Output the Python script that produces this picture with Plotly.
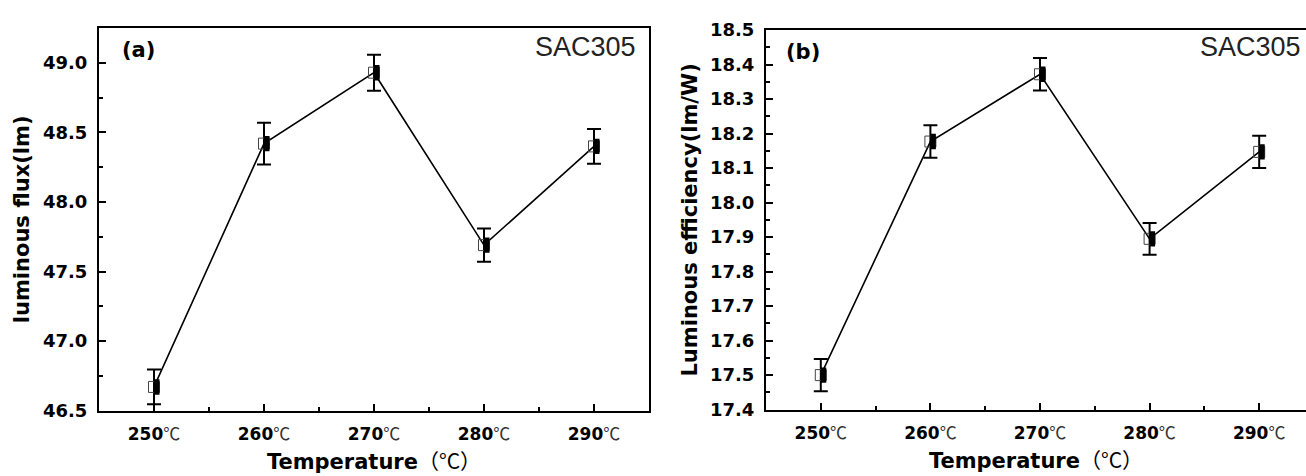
import plotly.graph_objects as go

# ---------------- data ----------------
temps = [250, 260, 270, 280, 290]
temp_labels = ["250", "260", "270", "280", "290"]

flux = [46.67, 48.42, 48.93, 47.69, 48.40]
flux_err = [0.125, 0.15, 0.13, 0.12, 0.125]

eff = [17.50, 18.177, 18.372, 17.895, 18.147]
eff_err = [0.047, 0.047, 0.047, 0.046, 0.047]

flux_ticks = [46.5, 47.0, 47.5, 48.0, 48.5, 49.0]
eff_ticks = [17.4, 17.5, 17.6, 17.7, 17.8, 17.9, 18.0, 18.1, 18.2, 18.3, 18.4, 18.5]

# ---------------- style ----------------
FONT = "DejaVu Sans"
BLACK = "#000000"
half_shift = 0.25  # shift of the filled half of the half-filled square marker

fig = go.Figure()


def add_series(xref, yref, xs, ys, errs):
    # connecting line + error bars
    fig.add_trace(go.Scatter(
        x=xs, y=ys, mode="lines", xaxis=xref, yaxis=yref,
        line=dict(color=BLACK, width=1.6),
        error_y=dict(type="data", array=errs, visible=True, color=BLACK,
                     thickness=2, width=7),
        showlegend=False, hoverinfo="skip"))
    # hollow square
    fig.add_trace(go.Scatter(
        x=xs, y=ys, mode="markers", xaxis=xref, yaxis=yref,
        marker=dict(symbol="square-open", size=11, color="#444444",
                    line=dict(width=1, color="#444444")),
        showlegend=False, hoverinfo="skip"))
    # filled right half
    fig.add_trace(go.Scatter(
        x=[t + half_shift for t in xs], y=ys, mode="markers", xaxis=xref, yaxis=yref,
        marker=dict(symbol="line-ns", size=11, color=BLACK,
                    line=dict(width=5.5, color=BLACK)),
        showlegend=False, hoverinfo="skip"))


add_series("x", "y", temps, flux, flux_err)
add_series("x2", "y2", temps, eff, eff_err)

xtick_text = ["<b>%s</b><span style='font-family:Noto Sans CJK SC;font-weight:normal;color:#333'>℃</span>" % t
              for t in temp_labels]

xaxis_common = dict(
    tickmode="array", tickvals=temps, ticktext=xtick_text,
    ticks="inside", ticklen=7, tickwidth=2, tickcolor=BLACK,
    showline=True, linecolor=BLACK, linewidth=2,
    showgrid=False, zeroline=False,
    tickfont=dict(family=FONT, size=17, color=BLACK),
    ticklabelstandoff=7,
    minor=dict(ticks="inside", ticklen=4, tickwidth=1.5, tickcolor=BLACK, dtick=5, tick0=245, showgrid=False),
    title=dict(text="<b>Temperature</b><span style='font-family:Noto Sans CJK SC;font-weight:normal'>（°C）</span>",
               font=dict(family=FONT, size=21, color=BLACK), standoff=10),
)

yaxis_common = dict(
    ticks="inside", ticklen=7, tickwidth=2, tickcolor=BLACK,
    showline=True, linecolor=BLACK, linewidth=2,
    showgrid=False, zeroline=False,
    tickfont=dict(family=FONT, size=18, color=BLACK, weight="bold"),
    tickformat=".1f", ticklabelstandoff=6,
)

fig.update_layout(
    width=1306, height=476,
    margin=dict(l=0, r=0, t=0, b=0),
    paper_bgcolor="white", plot_bgcolor="white",
    xaxis=dict(xaxis_common, domain=[99 / 1306, 649 / 1306], range=[245, 295],
               anchor="y", mirror=True),
    yaxis=dict(yaxis_common, domain=[1 - 418 / 476, 1 - 18 / 476], range=[46.5, 49.25],
               anchor="x", mirror=True, tickvals=flux_ticks,
               minor=dict(ticks="inside", ticklen=4, tickwidth=1.5, tickcolor=BLACK, dtick=0.25, tick0=46.5, showgrid=False),
               title=dict(text="<b>luminous flux(lm)</b>", font=dict(family=FONT, size=21, color=BLACK), standoff=8)),
    xaxis2=dict(xaxis_common, domain=[766 / 1306, 1.0], range=[245, 294.27],
                anchor="y2", mirror=True),
    yaxis2=dict(yaxis_common, domain=[1 - 417 / 476, 1 - 20 / 476], range=[17.4, 18.5],
                anchor="x2", mirror=False, tickvals=eff_ticks,
                minor=dict(ticks="inside", ticklen=4, tickwidth=1.5, tickcolor=BLACK, dtick=0.05, tick0=17.4, showgrid=False),
                title=dict(text="<b>Luminous efficiency(lm/W)</b>", font=dict(family=FONT, size=21, color=BLACK), standoff=7)),
)

annot_font = dict(family="Liberation Sans, Arial", size=27, color="#222222")
fig.add_annotation(x=294, y=1 - 20 / 476, xref="x", yref="paper", text="SAC305",
                   xanchor="right", yanchor="top", showarrow=False, font=annot_font)
fig.add_annotation(x=294, y=1 - 20 / 476, xref="x2", yref="paper", text="SAC305",
                   xanchor="right", yanchor="top", showarrow=False, font=annot_font)

label_font = dict(family=FONT, size=21, color=BLACK)
fig.add_annotation(x=120 / 1306, y=1 - 26 / 476, xref="paper", yref="paper", text="<b>(a)</b>",
                   xanchor="left", yanchor="top", showarrow=False, font=label_font)
fig.add_annotation(x=784 / 1306, y=1 - 28 / 476, xref="paper", yref="paper", text="<b>(b)</b>",
                   xanchor="left", yanchor="top", showarrow=False, font=label_font)

fig.write_html("out.html")
